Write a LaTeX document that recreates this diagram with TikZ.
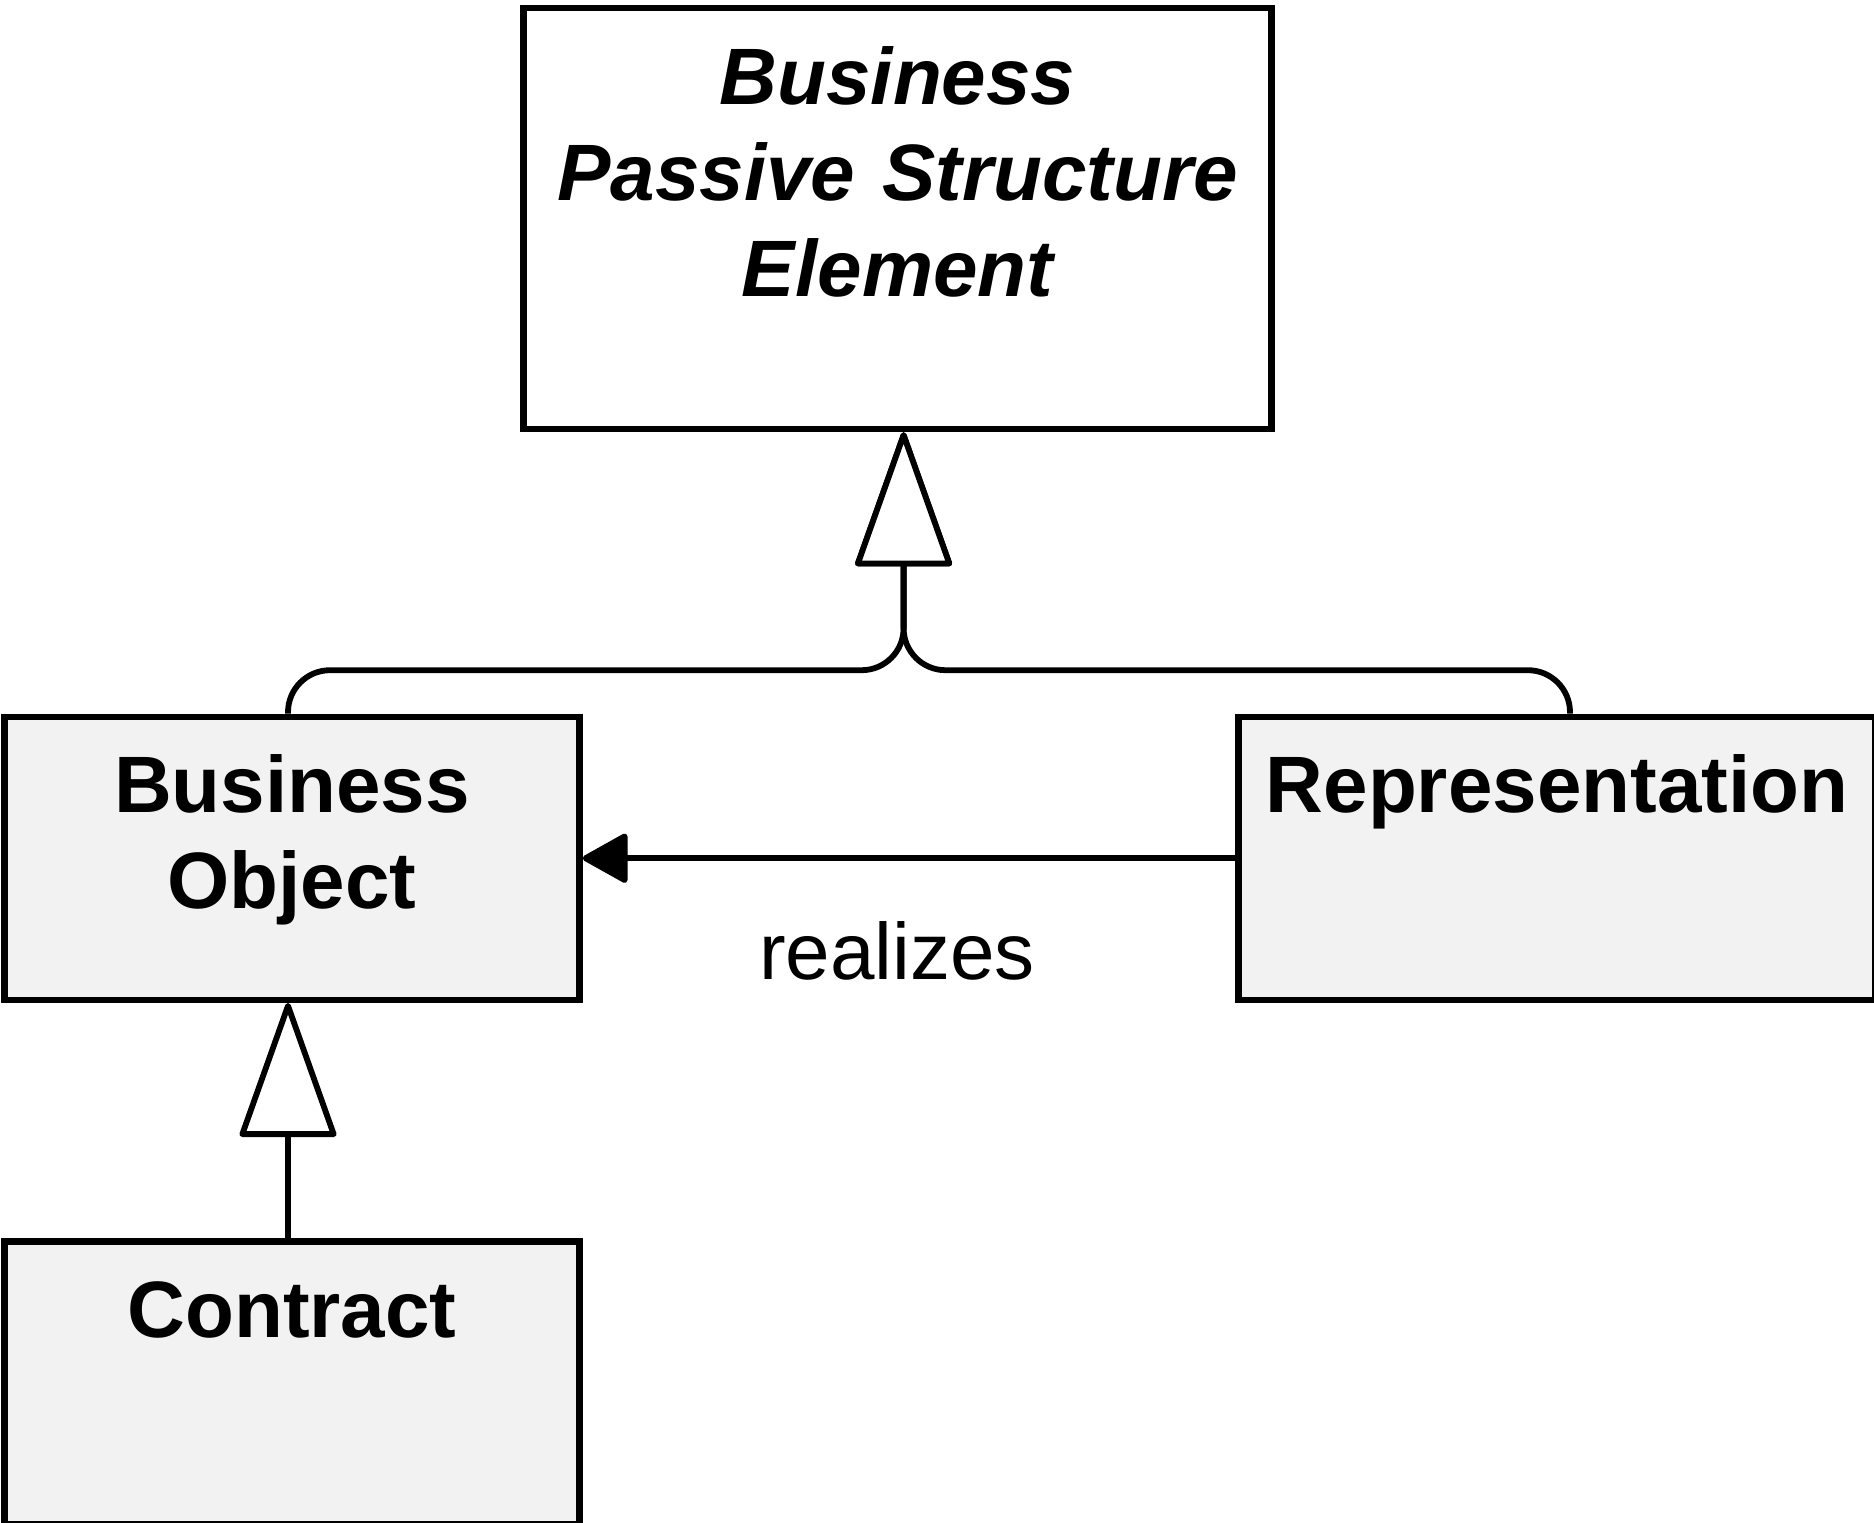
\documentclass[tikz,border=0pt]{standalone}
\usepackage{fontspec}
\setmainfont{Liberation Sans}
\usetikzlibrary{arrows.meta, positioning}
\definecolor{elemfill}{HTML}{F2F2F2}
\tikzset{
  elem/.style   = {rectangle, draw=black, line width=3.2pt, fill=elemfill,
                   inner sep=0pt, align=center, text height=48pt,
                   font=\fontsize{40}{48}\selectfont\bfseries},
  abstr/.style  = {elem, fill=white,
                   font=\fontsize{40}{48}\selectfont\bfseries\itshape},
  gen/.style    = {-{Triangle[length=70pt, width=49pt, fill=white, round]},
                   draw=black, line width=2.9pt, rounded corners=21pt},
  real/.style   = {-{Triangle[length=24pt, width=26pt, round]},
                   draw=black, line width=2.9pt},
  lbl/.style    = {font=\fontsize{40}{48}\selectfont, inner sep=0pt},
}
\begin{document}
\begin{tikzpicture}[x=0.5pt, y=-0.5pt]
  \useasboundingbox (0,0) rectangle (1874,1522);
  \node[abstr, anchor=north, text width=374pt, text depth=162.5pt] (bpse) at (897.6,4.8)
       {Business\\Passive Structure\\Element};
  \node[elem, anchor=north, text width=287.5pt, text depth=93.5pt] (bo) at (292,713.5)
       {Business\\Object};
  \node[elem, right=326.3pt of bo, text width=318.5pt, text depth=93.5pt] (repr)
       {Representation};
  \node[elem, below=117.75pt of bo, text width=287.5pt, text depth=93.5pt] (contract)
       {Contract};
  \coordinate (tip)  at ([xshift=3pt]bpse.south);
  \coordinate (join) at ([yshift=-119pt]tip);

  \draw[gen] ([xshift=-2pt]bo.north) |- (join) -- (tip);
  \draw[gen] ([xshift=6.5pt]repr.north) |- (join) -- (tip);
  \draw[gen] ([xshift=-2pt]contract.north) -- ([xshift=-2pt]bo.south);
  \draw[real] (repr.west) -- node[lbl, below=30pt, xshift=-6pt] {realizes} (bo.east);
\end{tikzpicture}
\end{document}
